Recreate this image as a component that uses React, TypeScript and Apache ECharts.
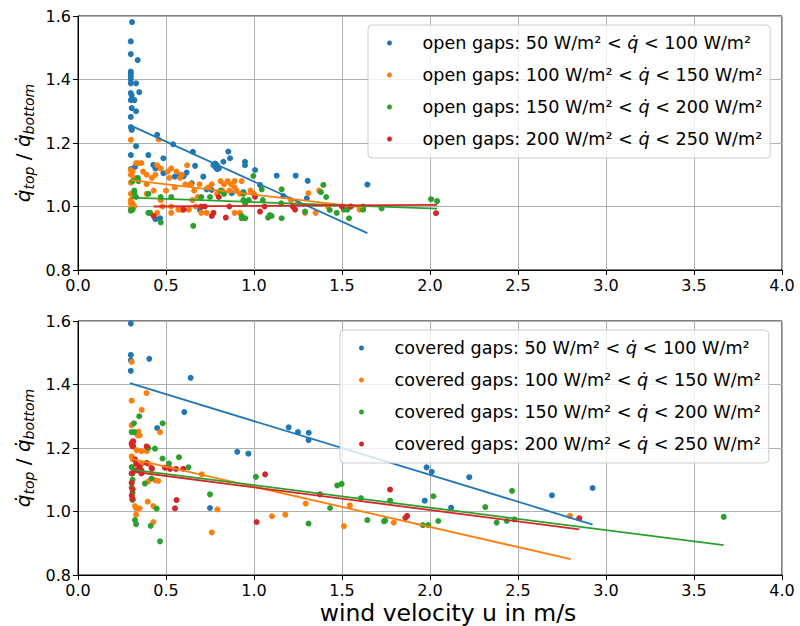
import React, { useEffect, useRef } from "react";
import * as echarts from "echarts";

const COLORS = ["#1f77b4", "#ff7f0e", "#2ca02c", "#d62728"];
const FONT = "DejaVu Sans";

const xTicks = [0, 0.5, 1, 1.5, 2, 2.5, 3, 3.5, 4];
const yTicks = [0.8, 1.0, 1.2, 1.4, 1.6];

const openNames = [
  "open gaps: 50 W/m² < q̇ < 100 W/m²",
  "open gaps: 100 W/m² < q̇ < 150 W/m²",
  "open gaps: 150 W/m² < q̇ < 200 W/m²",
  "open gaps: 200 W/m² < q̇ < 250 W/m²",
];
const coveredNames = [
  "covered gaps: 50 W/m² < q̇ < 100 W/m²",
  "covered gaps: 100 W/m² < q̇ < 150 W/m²",
  "covered gaps: 150 W/m² < q̇ < 200 W/m²",
  "covered gaps: 200 W/m² < q̇ < 250 W/m²",
];

const openBlue = [
  [0.307, 1.581], [0.3, 1.52], [0.3, 1.48], [0.3, 1.425], [0.3, 1.42], [0.3, 1.41], [0.3, 1.4],
  [0.33, 1.388], [0.3, 1.388], [0.339, 1.461], [0.348, 1.36], [0.3, 1.357], [0.305, 1.35],
  [0.3, 1.335], [0.32, 1.335], [0.305, 1.31], [0.33, 1.3], [0.3, 1.282], [0.3, 1.25],
  [0.305, 1.245], [0.305, 1.241], [0.33, 1.19], [0.3, 1.162], [0.4, 1.162], [0.485, 1.152],
  [0.45, 1.226], [0.54, 1.196], [0.653, 1.172], [0.324, 1.125], [0.428, 1.131], [0.44, 1.12],
  [0.3, 1.118], [0.665, 1.128], [0.485, 1.105], [0.55, 1.094], [0.57, 1.1], [0.6, 1.095],
  [0.617, 1.107], [0.712, 1.094], [0.646, 1.073], [0.731, 1.054], [0.76, 1.052], [0.77, 1.13],
  [0.78, 1.125], [0.79, 1.13], [0.8, 1.12], [0.78, 1.135], [0.79, 1.118], [0.826, 1.141],
  [0.854, 1.173], [0.864, 1.152], [0.949, 1.141], [0.949, 1.13], [1.006, 1.115], [1.034, 1.068],
  [1.129, 1.097], [1.237, 1.097], [1.305, 1.081], [1.167, 1.033], [1.3, 1.026], [1.644, 1.069],
  [0.466, 0.963], [0.44, 0.96], [0.693, 0.989], [0.873, 1.042], [0.94, 1.045],
];
const openOrange = [
  [0.3, 1.21], [0.458, 1.211], [0.3, 1.115], [0.3, 1.1], [0.3, 1.075], [0.3, 1.04], [0.3, 1.01],
  [0.3, 0.995], [0.31, 1.11], [0.33, 1.137], [0.343, 1.136], [0.36, 1.137], [0.37, 1.11],
  [0.32, 1.09], [0.39, 1.1], [0.42, 1.09], [0.44, 1.1], [0.47, 1.12], [0.45, 1.13], [0.51, 1.11],
  [0.52, 1.09], [0.53, 1.12], [0.56, 1.11], [0.58, 1.09], [0.59, 1.1], [0.62, 1.13], [0.61, 1.07],
  [0.64, 1.07], [0.69, 1.07], [0.66, 1.05], [0.39, 1.07], [0.31, 1.04], [0.31, 1.01], [0.39, 1.04],
  [0.32, 1.0], [0.3, 1.02], [0.47, 1.02], [0.48, 1.0], [0.53, 0.98], [0.53, 1.0], [0.57, 0.99],
  [0.59, 0.99], [0.63, 0.99], [0.67, 1.0], [0.73, 0.98], [0.7, 0.98], [0.81, 1.08], [0.83, 1.07],
  [0.85, 1.08], [0.87, 1.07], [0.86, 1.05], [0.89, 1.06], [0.9, 1.05], [0.92, 1.04], [0.82, 1.05],
  [0.79, 1.04], [0.89, 0.98], [0.92, 0.98], [1.0, 1.04], [1.309, 1.042], [1.37, 1.05],
  [1.35, 0.98], [1.29, 0.98], [1.42, 1.0], [1.6, 0.99], [1.21, 1.02], [1.25, 1.01], [0.74, 1.06],
  [0.76, 1.07], [0.55, 1.06], [0.5, 1.05], [0.43, 1.05], [0.45, 0.98], [0.65, 1.02], [0.68, 1.03],
  [0.89, 1.08], [0.93, 1.08], [0.98, 1.05],
];
const openGreen = [
  [0.3, 0.987], [0.31, 1.08], [0.32, 1.05], [0.34, 1.09], [0.343, 1.08], [0.32, 1.04], [0.33, 1.03],
  [0.4, 0.98], [0.47, 0.95], [0.655, 0.939], [0.53, 1.03], [0.47, 1.03], [0.31, 0.99], [0.41, 0.98],
  [0.7, 1.03], [0.81, 1.05], [0.83, 1.04], [0.75, 1.03], [0.93, 0.97], [0.94, 1.02], [0.996, 1.096],
  [1.044, 1.054], [0.94, 1.04], [0.95, 1.01], [0.93, 0.963], [0.95, 0.963], [1.09, 0.973],
  [1.08, 0.965], [1.1, 0.97], [1.157, 0.963], [1.157, 1.054], [1.155, 1.01], [1.394, 1.068],
  [1.38, 1.045], [1.41, 1.03], [1.29, 0.984], [1.43, 0.989], [1.47, 0.98], [1.51, 0.99],
  [1.53, 0.99], [1.54, 0.963], [1.55, 1.0], [1.62, 1.0], [1.62, 0.99], [1.725, 0.994],
  [2.006, 1.023], [2.04, 1.017], [0.97, 1.02], [1.05, 1.02], [0.4, 1.04],
];
const openRed = [
  [0.43, 0.97], [0.6, 0.99], [0.7, 1.0], [0.72, 1.0], [0.76, 0.97], [0.84, 0.965], [0.86, 1.0],
  [0.8, 1.03], [0.77, 0.98], [1.006, 1.031], [1.034, 0.984], [1.06, 1.0], [1.233, 0.99],
  [1.22, 1.0], [1.5, 1.0], [1.55, 1.0], [2.034, 0.979],
];
const openFits = [
  [[0.307, 1.253], [1.644, 0.916]],
  [[0.3, 1.083], [1.62, 0.997]],
  [[0.3, 1.028], [2.04, 0.993]],
  [[0.43, 1.0], [2.04, 1.005]],
];

const coveredBlue = [
  [0.3, 1.592], [0.3, 1.493], [0.3, 1.476], [0.3, 1.443], [0.405, 1.481], [0.64, 1.421],
  [0.604, 1.313], [0.45, 1.263], [0.905, 1.188], [0.968, 1.182], [1.197, 1.265], [1.25, 1.25],
  [1.311, 1.248], [1.31, 1.225], [0.75, 1.011], [0.31, 1.037], [1.981, 1.139], [2.01, 1.125],
  [2.223, 1.108], [1.97, 1.034], [2.12, 1.012], [2.693, 1.051], [2.924, 1.074],
];
const coveredOrange = [
  [0.305, 1.471], [0.39, 1.373], [0.305, 1.349], [0.362, 1.32], [0.305, 1.272], [0.343, 1.252],
  [0.35, 1.24], [0.34, 1.24], [0.466, 1.25], [0.333, 1.193], [0.36, 1.19], [0.39, 1.19],
  [0.305, 1.174], [0.31, 1.165], [0.305, 1.21], [0.31, 1.22], [0.456, 1.096], [0.4, 1.095],
  [0.44, 1.098], [0.324, 1.017], [0.33, 1.01], [0.35, 1.01], [0.33, 0.99], [0.396, 1.031],
  [0.428, 1.017], [0.428, 0.967], [0.703, 1.117], [0.76, 0.934], [0.792, 1.007], [1.102, 0.985],
  [1.178, 0.99], [1.294, 1.025], [1.545, 1.019], [1.511, 0.954], [1.794, 0.965], [2.795, 0.986],
  [0.4, 1.15], [0.36, 1.15],
];
const coveredGreen = [
  [0.318, 1.278], [0.348, 1.3], [0.481, 1.278], [0.305, 1.25], [0.32, 1.25], [0.314, 1.207],
  [0.437, 1.198], [0.48, 1.167], [0.517, 1.151], [0.574, 1.171], [0.627, 1.139], [0.305, 1.14],
  [0.31, 1.12], [0.418, 1.104], [0.38, 1.088], [0.31, 1.1], [0.305, 1.075], [0.31, 1.06],
  [0.31, 1.037], [0.447, 1.009], [0.324, 0.973], [0.33, 0.96], [0.413, 0.955], [0.466, 0.906],
  [0.75, 1.054], [1.011, 1.109], [1.473, 1.082], [1.498, 1.087], [1.608, 1.042], [1.432, 1.011],
  [1.31, 0.962], [1.644, 0.973], [1.739, 0.969], [1.745, 0.972], [1.773, 1.034], [1.96, 0.957],
  [1.99, 0.957], [2.019, 1.048], [2.047, 0.97], [2.314, 1.014], [2.379, 0.965], [2.436, 0.97],
  [2.466, 1.065], [2.48, 0.975], [3.669, 0.983], [0.4, 1.2],
];
const coveredRed = [
  [0.314, 1.221], [0.305, 1.215], [0.31, 1.205], [0.324, 1.164], [0.35, 1.14], [0.33, 1.15],
  [0.36, 1.13], [0.418, 1.137], [0.33, 1.13], [0.305, 1.12], [0.305, 1.09], [0.31, 1.07],
  [0.305, 1.05], [0.31, 1.04], [0.56, 1.036], [0.551, 1.01], [0.39, 1.205], [0.39, 1.153],
  [0.42, 1.135], [0.494, 1.138], [0.523, 1.134], [0.557, 1.134], [0.598, 1.134], [0.36, 1.12],
  [1.015, 0.967], [1.063, 1.117], [1.773, 1.069], [1.87, 0.986], [1.86, 0.98], [1.375, 1.054],
  [2.848, 0.979],
];
const coveredFits = [
  [[0.295, 1.404], [2.924, 0.959]],
  [[0.305, 1.166], [2.8, 0.85]],
  [[0.305, 1.132], [3.669, 0.894]],
  [[0.305, 1.126], [2.848, 0.944]],
];

const openScatter = [openBlue, openOrange, openGreen, openRed];
const coveredScatter = [coveredBlue, coveredOrange, coveredGreen, coveredRed];

function legendFormatter(name: string) {
  const parts = name.split("q̇");
  return `{a|${parts[0]}}{i|q̇}{t|${parts[1]}}`;
}

function makeLegend(names: string[], left: number, top: number) {
  const base = { fontFamily: FONT, fontSize: 17.6, lineHeight: 20, color: "#000" };
  return {
    data: names,
    orient: "vertical",
    left,
    top,
    icon: "circle",
    itemWidth: 10,
    itemHeight: 5,
    itemGap: 12,
    padding: [8, 8, 9, 19],
    selectedMode: false,
    backgroundColor: "rgba(255,255,255,0.8)",
    borderColor: "#cccccc",
    borderWidth: 1,
    borderRadius: 4,
    formatter: legendFormatter,
    textStyle: {
      ...base,
      rich: {
        a: { ...base, padding: [0, 0, 0, 23] },
        i: { ...base, fontStyle: "italic" },
        t: { ...base },
      },
    },
  };
}

function yLabel(cy: number) {
  const q = { fontFamily: FONT, fontSize: 20, fontStyle: "italic", lineHeight: 26, fill: "#000" };
  const s = { fontFamily: FONT, fontSize: 14, fontStyle: "italic", lineHeight: 14, padding: [12, 0, 0, 0], fill: "#000" };
  const n = { fontFamily: FONT, fontSize: 20, lineHeight: 26, fill: "#000" };
  return {
    type: "text",
    x: 23,
    y: cy,
    rotation: Math.PI / 2,
    style: {
      text: "{q|q̇}{s|top}{n| / }{q|q̇}{s|bottom}",
      align: "center",
      verticalAlign: "middle",
      rich: { q, s, n },
    },
  };
}

export default function App() {
  const ref = useRef<HTMLDivElement>(null);
  useEffect(() => {
    if (!ref.current) return;
    const chart = echarts.init(ref.current, undefined, { renderer: "svg" });

    const axisCommon = {
      type: "value",
      axisLine: { show: true, onZero: false, lineStyle: { color: "#000", width: 1 } },
      axisTick: { show: true, length: 5, lineStyle: { color: "#000" } },
      splitLine: { show: true, lineStyle: { color: "#b0b0b0", width: 1 } },
      axisLabel: {
        color: "#000",
        fontFamily: FONT,
        fontSize: 16,
        margin: 7,
        formatter: (v: number) => v.toFixed(1),
      },
    };

    const series: any[] = [];
    const groups = [
      { scatter: openScatter, fits: openFits, names: openNames, idx: 0 },
      { scatter: coveredScatter, fits: coveredFits, names: coveredNames, idx: 1 },
    ];
    groups.forEach((g) => {
      for (let k = 0; k < 4; k++) {
        series.push({
          type: "scatter",
          name: g.names[k],
          xAxisIndex: g.idx,
          yAxisIndex: g.idx,
          data: g.scatter[k],
          symbolSize: 6,
          itemStyle: { color: COLORS[k], opacity: 1 },
          silent: true,
        });
        series.push({
          type: "line",
          name: g.names[k] + " fit",
          xAxisIndex: g.idx,
          yAxisIndex: g.idx,
          data: g.fits[k],
          showSymbol: false,
          symbol: "none",
          lineStyle: { color: COLORS[k], width: 1.8 },
          silent: true,
        });
      }
    });

    chart.setOption({
      animation: false,
      backgroundColor: "#fff",
      grid: [
        { left: 78, right: 18, top: 16, height: 254, show: true, borderColor: "#000", borderWidth: 1 },
        { left: 78, right: 18, top: 321, height: 255, show: true, borderColor: "#000", borderWidth: 1 },
      ],
      xAxis: [
        { ...axisCommon, gridIndex: 0, min: 0, max: 4, interval: 0.5 },
        {
          ...axisCommon,
          gridIndex: 1,
          min: 0,
          max: 4,
          interval: 0.5,
          name: "wind velocity u in m/s",
          nameLocation: "middle",
          nameGap: 26,
          nameTextStyle: { fontFamily: FONT, fontSize: 23.5, color: "#000", padding: [0, 0, 0, 36] },
        },
      ],
      yAxis: [
        { ...axisCommon, gridIndex: 0, min: 0.8, max: 1.6, interval: 0.2 },
        { ...axisCommon, gridIndex: 1, min: 0.8, max: 1.6, interval: 0.2 },
      ],
      legend: [makeLegend(openNames, 368, 25), makeLegend(coveredNames, 340, 330)],
      graphic: [yLabel(143), yLabel(448)],
      series,
    });
    return () => chart.dispose();
  }, []);
  return (
    <div
      ref={ref}
      style={{ position: "fixed", left: 0, top: 0, width: 800, height: 626, background: "#fff" }}
    />
  );
}
